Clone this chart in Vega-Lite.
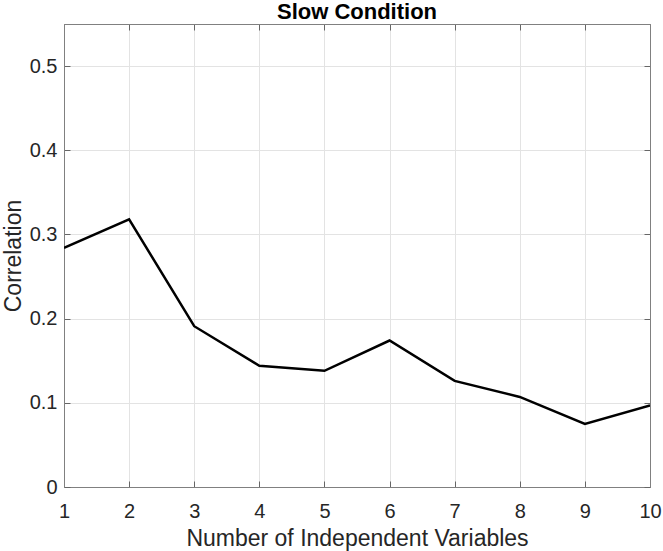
{
  "$schema": "https://vega.github.io/schema/vega-lite/v6.json",
  "width": 586,
  "height": 463,
  "autosize": {"type": "none"},
  "padding": {"left": 64, "top": 24, "right": 13, "bottom": 64},
  "background": "white",
  "config": {
    "font": "Liberation Sans",
    "view": {"stroke": "#808080", "strokeWidth": 1},
    "axis": {
      "labelFont": "Liberation Sans",
      "titleFont": "Liberation Sans",
      "labelColor": "#262626",
      "titleColor": "#262626",
      "labelFontSize": 20,
      "titleFontSize": 23,
      "titleFontWeight": "normal",
      "domain": true,
      "domainColor": "#808080",
      "tickColor": "#666666",
      "gridColor": "#e3e3e3",
      "gridWidth": 1,
      "domainWidth": 1,
      "tickWidth": 1,
      "zindex": 1
    }
  },
  "title": {
    "text": "Slow Condition",
    "font": "Liberation Sans",
    "fontSize": 22,
    "fontWeight": "bold",
    "color": "#000000",
    "anchor": "middle",
    "frame": "group",
    "offset": 0
  },
  "data": {
    "values": [
      {"n": 1, "corr": 0.284},
      {"n": 2, "corr": 0.318},
      {"n": 3, "corr": 0.191},
      {"n": 4, "corr": 0.144},
      {"n": 5, "corr": 0.138},
      {"n": 6, "corr": 0.174},
      {"n": 7, "corr": 0.126},
      {"n": 8, "corr": 0.107},
      {"n": 9, "corr": 0.075},
      {"n": 10, "corr": 0.097}
    ]
  },
  "layer": [
    {
      "mark": {"type": "line", "color": "#000000", "strokeWidth": 2.5, "clip": true},
      "encoding": {
        "x": {
          "field": "n", "type": "quantitative",
          "scale": {"domain": [1, 10], "nice": false, "zero": false},
          "axis": {
            "values": [1, 2, 3, 4, 5, 6, 7, 8, 9, 10],
            "labelExpr": "toString(datum.value)",
            "title": "Number of Independent Variables",
            "grid": true,
            "tickSize": -6,
            "labelPadding": 20,
            "labelFlush": false,
            "labelOverlap": false,
            "titleY": 58,
            "titleBaseline": "alphabetic"
          }
        },
        "y": {
          "field": "corr", "type": "quantitative",
          "scale": {"domain": [0, 0.55], "nice": false},
          "axis": {
            "values": [0, 0.1, 0.2, 0.3, 0.4, 0.5],
            "labelExpr": "toString(datum.value)",
            "title": "Correlation",
            "grid": true,
            "tickSize": -6,
            "labelPadding": 13,
            "labelFlush": false,
            "labelOverlap": false,
            "titleX": -44,
            "titleY": 231.5,
            "titleAngle": -90,
            "titleAlign": "center",
            "titleBaseline": "alphabetic"
          }
        }
      }
    },
    {
      "mark": {"type": "line", "opacity": 0},
      "encoding": {
        "x": {
          "field": "n", "type": "quantitative",
          "axis": {
            "orient": "top",
            "values": [1, 2, 3, 4, 5, 6, 7, 8, 9, 10],
            "labels": false, "title": null, "grid": false,
            "tickSize": -6
          }
        },
        "y": {
          "field": "corr", "type": "quantitative",
          "axis": {
            "orient": "right",
            "values": [0, 0.1, 0.2, 0.3, 0.4, 0.5],
            "labels": false, "title": null, "grid": false,
            "tickSize": -6
          }
        }
      }
    }
  ],
  "resolve": {"axis": {"x": "independent", "y": "independent"}}
}
